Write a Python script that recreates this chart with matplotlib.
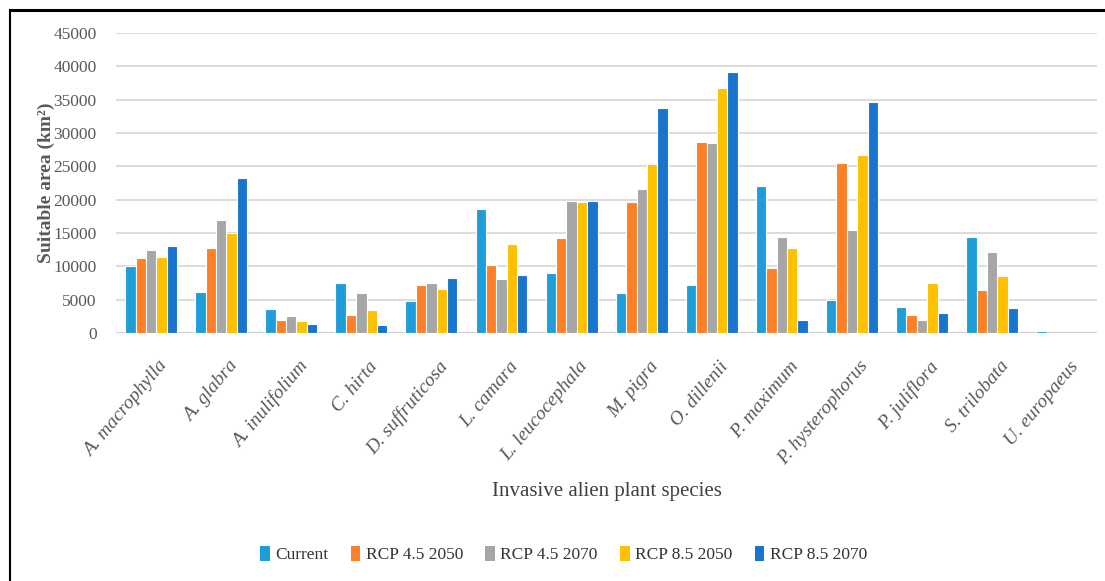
import numpy as np
import matplotlib
matplotlib.use("Agg")
import matplotlib.pyplot as plt
from matplotlib.patches import Patch
from matplotlib.lines import Line2D

# Daten
arten = ["A. macrophylla", "A. glabra", "A. inulifolium", "C. hirta", "D. suffruticosa",
         "L. camara", "L. leucocephala", "M. pigra", "O. dillenii", "P. maximum",
         "P. hysterophorus", "P. juliflora", "S. trilobata", "U. europaeus"]

current = [10000, 6100, 3600, 7500, 4850, 18650, 9050, 5950, 7200, 22100, 5000, 3900, 14400, 300]
rcp45_2050 = [11300, 12700, 2000, 2650, 7200, 10200, 14250, 19600, 28700, 9750, 25550, 2650, 6400, 0]
rcp45_2070 = [12400, 16950, 2500, 5950, 7500, 8150, 19800, 21650, 28550, 14450, 15500, 2000, 12200, 0]
rcp85_2050 = [11450, 15050, 1850, 3450, 6550, 13350, 19600, 25400, 36750, 12700, 26700, 7500, 8600, 0]
rcp85_2070 = [13000, 23200, 1400, 1250, 8300, 8750, 19800, 33750, 39100, 2000, 34700, 3000, 3750, 0]

serien = ["Current", "RCP 4.5 2050", "RCP 4.5 2070", "RCP 8.5 2050", "RCP 8.5 2070"]
werte = [current, rcp45_2050, rcp45_2070, rcp85_2050, rcp85_2070]
farben = ["#1f9dd9", "#fd7f28", "#a6a6a6", "#ffc000", "#1874cd"]

plt.rcParams["font.family"] = ["Liberation Serif", "DejaVu Serif"]

fig = plt.figure(figsize=(11.05, 5.81), dpi=100)
ax = fig.add_axes([0.105, 0.4269, 0.888, 0.5163])

x = np.arange(len(arten))
breite = 0.148
for i, (name, w, f) in enumerate(zip(serien, werte, farben)):
    ax.bar(x + (i - 2) * breite, w, width=breite, color=f, edgecolor="white",
           linewidth=0.8, label=name, zorder=3)

ax.set_xlim(-0.5, len(arten) - 0.5)
ax.set_ylim(0, 45000)
ax.set_yticks(np.arange(0, 45001, 5000))
ax.grid(axis="y", color="#d9d9d9", linewidth=1.3, zorder=0)
for s in ["top", "right", "left", "bottom"]:
    ax.spines[s].set_visible(False)
ax.axhline(0, color="#d0d0d0", linewidth=1.6, zorder=2)
ax.tick_params(axis="both", length=0, colors="#595959")
ax.tick_params(axis="y", labelsize=12.5, pad=14)

ax.set_xticks(x + 0.1)
ax.set_xticklabels(arten, rotation=50, ha="right", rotation_mode="anchor",
                   fontstyle="italic", fontsize=14, color="#595959")
ax.tick_params(axis="x", pad=18)

ax.set_ylabel("Suitable area (km²)", fontsize=14, fontweight="bold", color="#595959")
ax.yaxis.set_label_coords(-0.062, 0.5)
ax.set_xlabel("Invasive alien plant species", fontsize=15, color="#404040", labelpad=10)

handles = [Patch(facecolor=f, edgecolor="none") for f in farben]
fig.legend(handles, serien, loc="center", bbox_to_anchor=(0.51, 0.045), ncol=5,
           frameon=False, fontsize=12.5, handlelength=0.55, handleheight=0.9,
           handletextpad=0.3, columnspacing=1.3, labelcolor="#333333")

# Rahmen oben und links
fig.add_artist(Line2D([0.009, 1.0], [0.983, 0.983], color="black", linewidth=2.2))
fig.add_artist(Line2D([0.009, 0.009], [0.0, 0.983], color="black", linewidth=1.5))

fig.savefig("out.png", dpi=100)
